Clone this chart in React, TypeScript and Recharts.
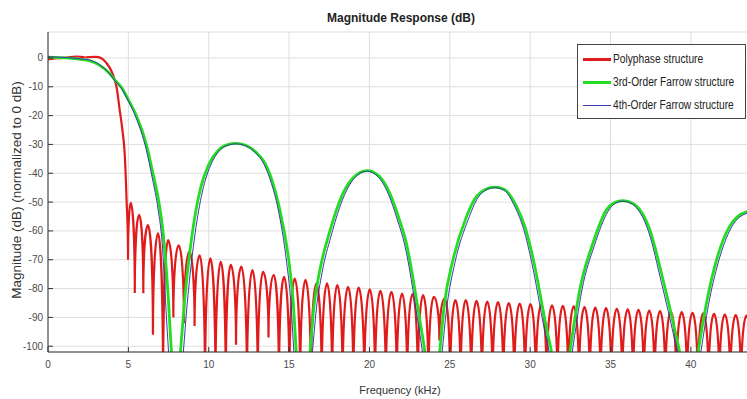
import React from 'react';
import { LineChart, Line, XAxis, YAxis, CartesianGrid } from 'recharts';

// axis ticks
const freqTicks = [0, 5, 10, 15, 20, 25, 30, 35, 40];
const dbTicks = [0, -10, -20, -30, -40, -50, -60, -70, -80, -90, -100];

// Polyphase structure (red), nulls below -102 are clipped
const polyKHz = [
  0, 0.6, 1.2, 1.75, 2.3, 2.85, 3.3, 3.63, 3.95, 4.26, 4.46, 4.63, 4.77, 4.88, 4.98,
  5.15, 5.4, 5.67, 5.93, 6.22, 6.53, 6.85, 7.16, 7.47, 7.8, 8.13, 8.46, 8.8, 9.12,
  9.44, 9.77, 10.1, 10.42, 10.75, 11.06, 11.37, 11.7, 12.03, 12.38, 12.72, 13.05,
  13.38, 13.72, 14.05, 14.37, 14.69, 15.02, 15.35, 15.69, 16.02, 16.36, 16.7, 17.03,
  17.36, 17.68, 18.0, 18.33, 18.67, 19.0, 19.33, 19.68, 20.02, 20.35, 20.68, 21.02,
  21.37, 21.7, 22.03, 22.35, 22.68, 23.01, 23.34, 23.67, 24.0, 24.35, 24.69, 25.02,
  25.35, 25.67, 25.99, 26.33, 26.66, 27.0, 27.33, 27.66, 28.0, 28.33, 28.67, 29.01,
  29.35, 29.68, 30.02, 30.35, 30.69, 31.02, 31.36, 31.7, 32.03, 32.37, 32.71, 33.04,
  33.38, 33.71, 34.05, 34.38, 34.72, 35.05, 35.39, 35.73, 36.07, 36.4, 36.74, 37.07,
  37.41, 37.74, 38.08, 38.41, 38.75, 39.09, 39.43, 39.76, 40.1, 40.43, 40.77, 41.1,
  41.44, 41.77, 42.11, 42.45, 42.79, 43.12, 43.46, 43.8, 44.13, 44.46,
];
const polyDb = [
  -0.5, -0.1, 0.1, 0.5, 0.1, 0.4, 0, -1.7, -4.6, -9.9, -18, -25, -33, -48, -70,
  -50.3, -81.5, -54.4, -81.6, -58, -96, -60.8, -115, -63.2, -90, -65, -92, -67.2, -93,
  -68.5, -115, -69.5, -115, -70.7, -115, -71.8, -99.5, -72.4, -115, -73.6, -115,
  -74.2, -97, -75.3, -115, -75.9, -115, -76.5, -115, -77, -115, -78.2, -115,
  -78.2, -115, -78.8, -115, -79.4, -115, -79.7, -115, -80.3, -115, -80.8, -115,
  -81.1, -115, -81.7, -115, -81.9, -115, -82.3, -115, -82.9, -98, -83.4, -115,
  -84, -115, -84, -115, -84.3, -115, -84.5, -115, -84.7, -115, -85, -115,
  -85.2, -115, -85.4, -115, -85.6, -115, -85.8, -115, -86, -115, -86.2, -115,
  -86.4, -115, -86.6, -115, -86.8, -115, -87, -115, -87.2, -115, -87.4, -115,
  -87.6, -115, -87.8, -115, -88, -115, -88.2, -115, -88.4, -115, -88.6, -115,
  -88.8, -115, -89, -115, -89.2, -115, -89.4, -115, -89.6, -115,
];

// 3rd-Order Farrow structure (green)
const farrow3KHz = [
  0, 1, 2, 2.6, 3.2, 3.85, 4.15, 4.57, 5.0, 5.5, 6.12, 6.53, 6.9, 7.15, 7.47, 7.68, 7.95,
  8.24, 8.5, 9.0, 9.5, 10.0, 10.6, 11.0, 11.68, 12.3, 12.9, 13.5, 14.0, 14.4, 15.0, 15.25, 15.45, 15.85,
  16.3, 16.55, 16.9, 17.5, 18.36, 19.0, 19.85, 20.6, 21.26, 21.8, 22.3, 23.1, 23.45, 23.9,
  24.37, 24.65, 25.2, 26.04, 26.66, 27.2, 27.8, 28.4, 29.15, 29.7, 30.2, 31.0, 31.33, 31.9,
  32.47, 33.1, 33.9, 34.75, 35.2, 35.78, 36.4, 37.45, 38.27, 39.0, 39.3, 39.9,
  40.45, 40.97, 41.6, 42.4, 43.46, 43.85, 44.3,
];
const farrow3Db = [
  0.3, 0, -0.5, -1, -2.5, -5.5, -7.6, -10.2, -14.5, -20, -30, -40, -50, -60, -82, -102, -125,
  -102, -84, -60, -45, -37, -32, -30.4, -29.6, -30.3, -32.5, -36.5, -43.5, -52, -71, -84, -102, -125,
  -102, -86, -74, -60.8, -46.9, -41.5, -39.1, -41, -46.9, -55, -64.3, -89.8, -102, -125,
  -102, -86, -70, -55, -48, -45.6, -44.8, -45.6, -51.5, -59, -70, -93.2, -102, -125,
  -102, -80, -64.3, -52.7, -50.3, -49.5, -50.5, -59.7, -77, -94.4, -102, -125,
  -102, -85, -70, -58.5, -53.4, -53.1, -53.3,
];

// 4th-Order Farrow structure (blue)
const farrow4KHz = [
  0, 1, 2, 2.6, 3.2, 3.85, 4.15, 4.57, 5.0, 5.5, 6.1, 6.5, 6.85, 7.1, 7.35, 7.5, 7.95,
  8.42, 8.65, 9.15, 9.6, 10.1, 10.65, 11.0, 11.68, 12.3, 12.9, 13.45, 13.9, 14.3, 14.85, 15.1, 15.3, 15.85,
  16.45, 16.7, 17.05, 17.6, 18.45, 19.05, 19.85, 20.55, 21.2, 21.7, 22.2, 23.0, 23.3, 23.9,
  24.52, 24.8, 25.32, 26.15, 26.75, 27.25, 27.8, 28.35, 29.08, 29.6, 30.1, 30.88, 31.18, 31.9,
  32.62, 33.22, 34.0, 34.85, 35.25, 35.78, 36.35, 37.37, 38.17, 38.88, 39.15, 39.9,
  40.62, 41.1, 41.7, 42.5, 43.5, 43.85, 44.3,
];
const farrow4Db = [
  0.4, 0.2, -0.3, -0.7, -2.3, -5.6, -7.8, -10.6, -15, -21, -31.5, -42, -52.5, -64, -88, -102, -130,
  -102, -86, -61, -46.5, -37.5, -32.3, -30.7, -29.8, -30.5, -32.8, -37, -43.5, -52, -71, -84, -102, -130,
  -102, -87, -74.5, -62, -47.5, -41.8, -39.3, -41.3, -47.5, -55.5, -65, -91, -102, -130,
  -102, -87, -71, -56, -48.5, -45.8, -45, -45.8, -52, -59.5, -71, -94, -102, -130,
  -102, -80.5, -65, -53.2, -50.6, -49.7, -50.7, -60.3, -78, -95, -102, -130,
  -102, -85.5, -71, -59, -53.8, -53.4, -53.5,
];

const legendItems = [
  { name: 'Polyphase structure', color: '#e01b1b', width: 3 },
  { name: '3rd-Order Farrow structure', color: '#22dd22', width: 3 },
  { name: '4th-Order Farrow structure', color: '#3a3aa8', width: 1 },
];

const toRows = (xs: number[], ys: number[]) => xs.map((f, i) => ({ f, db: ys[i] }));

// curve that keeps lobe tops round and drops straight into the nulls (like a dB plot)
const archCurve = (context: any) => {
  let xs: number[] = [];
  let ys: number[] = [];
  return {
    areaStart() {},
    areaEnd() {},
    lineStart() {
      xs = [];
      ys = [];
    },
    point(x: number, y: number) {
      xs.push(+x);
      ys.push(+y);
    },
    lineEnd() {
      const n = xs.length;
      if (!n) return;
      context.moveTo(xs[0], ys[0]);
      const kind = (i: number) => {
        if (i === 0 || i === n - 1) return 'mid';
        if (ys[i] < ys[i - 1] && ys[i] < ys[i + 1]) return 'top';
        if (ys[i] > ys[i - 1] && ys[i] > ys[i + 1]) return 'bottom';
        return 'mid';
      };
      const slope = (i: number) => {
        const s: number[] = [];
        if (i > 0) s.push((ys[i] - ys[i - 1]) / (xs[i] - xs[i - 1] || 1));
        if (i < n - 1) s.push((ys[i + 1] - ys[i]) / (xs[i + 1] - xs[i] || 1));
        return s.reduce((a, b) => a + b, 0) / s.length;
      };
      const handle = (i: number, dir: number, dx: number, dy: number) => {
        const k = kind(i);
        if (k === 'top') return [xs[i] + dir * 0.5 * dx, ys[i]];
        if (k === 'bottom') return [xs[i], ys[i] - 0.6 * Math.abs(dy)];
        const m = slope(i);
        return [xs[i] + (dir * dx) / 3, ys[i] + (dir * m * dx) / 3];
      };
      for (let i = 0; i < n - 1; i++) {
        const dx = xs[i + 1] - xs[i];
        const dy = ys[i + 1] - ys[i];
        const c1 = handle(i, 1, dx, dy);
        const c2 = handle(i + 1, -1, dx, dy);
        context.bezierCurveTo(c1[0], c1[1], c2[0], c2[1], xs[i + 1], ys[i + 1]);
      }
    },
  };
};

const font = '"Liberation Sans", Arial, sans-serif';
const tickStyle = { fill: '#4a4a4a', fontSize: 10, fontFamily: font };

export default function App() {
  return (
    <div
      style={{
        position: 'absolute',
        left: 0,
        top: 0,
        width: 747,
        height: 399,
        overflow: 'hidden',
        background: '#fff',
        fontFamily: font,
      }}
    >
      <LineChart width={760} height={399} margin={{ top: 32, right: 0, bottom: 0, left: 0 }}>
        <CartesianGrid stroke="#dedede" />
        <XAxis
          type="number"
          dataKey="f"
          domain={[0, 44.3]}
          ticks={freqTicks}
          interval={0}
          allowDataOverflow
          height={47}
          tickSize={-5}
          tickMargin={14}
          tick={tickStyle}
          axisLine={{ stroke: '#333' }}
          tickLine={{ stroke: '#333' }}
        />
        <XAxis
          xAxisId="top"
          orientation="top"
          type="number"
          dataKey="f"
          domain={[0, 44.3]}
          ticks={freqTicks}
          interval={0}
          allowDataOverflow
          height={0}
          tickSize={-6}
          tick={false}
          axisLine={{ stroke: '#555' }}
          tickLine={{ stroke: '#333' }}
        />
        <YAxis
          type="number"
          domain={[-102, 9]}
          ticks={dbTicks}
          interval={0}
          allowDataOverflow
          width={48}
          tickSize={-5}
          tickMargin={10}
          tick={tickStyle}
          axisLine={{ stroke: '#333' }}
          tickLine={{ stroke: '#333' }}
        />
        <Line
          data={toRows(polyKHz, polyDb)}
          dataKey="db"
          type={archCurve as any}
          stroke="#e01b1b"
          strokeWidth={2.2}
          dot={false}
          isAnimationActive={false}
        />
        <Line
          data={toRows(farrow3KHz, farrow3Db)}
          dataKey="db"
          type="monotone"
          stroke="#22dd22"
          strokeWidth={2.8}
          dot={false}
          isAnimationActive={false}
        />
        <Line
          data={toRows(farrow4KHz, farrow4Db)}
          dataKey="db"
          type="monotone"
          stroke="#3a3aa8"
          strokeWidth={1}
          dot={false}
          isAnimationActive={false}
        />
      </LineChart>

      {/* title */}
      <div
        style={{
          position: 'absolute',
          left: 301,
          top: 11,
          width: 200,
          textAlign: 'center',
          fontSize: 12,
          fontWeight: 'bold',
          color: '#222',
          lineHeight: '14px',
        }}
      >
        Magnitude Response (dB)
      </div>

      {/* y label */}
      <div
        style={{
          position: 'absolute',
          left: 17 - 150,
          top: 190 - 8,
          width: 300,
          height: 16,
          lineHeight: '16px',
          textAlign: 'center',
          fontSize: 13.5,
          color: '#333',
          transform: 'rotate(-90deg)',
        }}
      >
        Magnitude (dB) (normalized to 0 dB)
      </div>

      {/* x label */}
      <div
        style={{
          position: 'absolute',
          left: 300,
          top: 383,
          width: 200,
          textAlign: 'center',
          fontSize: 11,
          color: '#333',
          lineHeight: '14px',
        }}
      >
        Frequency (kHz)
      </div>

      {/* legend */}
      <div
        style={{
          position: 'absolute',
          left: 577,
          top: 44,
          width: 167,
          height: 73,
          border: '1px solid #444',
          background: '#fff',
        }}
      >
        {legendItems.map((item, i) => (
          <div key={item.name} style={{ position: 'absolute', left: 0, top: 14 + i * 23 - 7, height: 14, width: 167 }}>
            <div
              style={{
                position: 'absolute',
                left: 5,
                top: 7 - item.width / 2,
                width: 28,
                height: item.width,
                background: item.color,
              }}
            />
            <div
              style={{
                position: 'absolute',
                left: 35,
                top: 0,
                fontSize: 12,
                lineHeight: '14px',
                color: '#222',
                whiteSpace: 'nowrap',
                transform: 'scaleX(0.85)',
                transformOrigin: 'left center',
              }}
            >
              {item.name}
            </div>
          </div>
        ))}
      </div>
    </div>
  );
}
